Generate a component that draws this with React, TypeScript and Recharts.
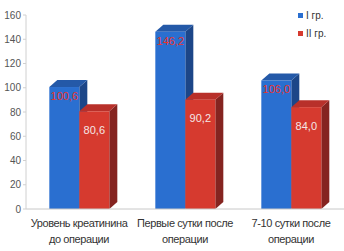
import { BarChart, Bar, XAxis, YAxis, LabelList } from 'recharts';

const categories = ['Уровень креатинина\nдо операции', 'Первые сутки после\nоперации', '7-10 сутки после\nоперации'];
const group1 = [100.6, 146.2, 106.0];
const group2 = [80.6, 90.2, 84.0];
const yTicks = [0, 20, 40, 60, 80, 100, 120, 140, 160];
const seriesNames = ['I гр.', 'II гр.'];

const data = categories.map((name, i) => ({ name, g1: group1[i], g2: group2[i] }));

const DX = 8;
const DY = 7;

const palettes = {
    blue: { front: '#2a6fd0', top: '#2459a8', side: '#1c4688' },
    red: { front: '#d63a2f', top: '#b8302a', side: '#852420' },
};

const fmt = (v: number) => v.toFixed(1).replace('.', ',');

const Bar3D = (props: any) => {
    const { x, y, width, height, colors } = props;
    if (width == null || height == null) return null;
    const r = x + width;
    const b = y + height;
    return (
        <g>
            <polygon points={`${r},${y} ${r + DX},${y - DY} ${r + DX},${b - DY} ${r},${b}`} fill={colors.side} />
            <polygon points={`${x},${y} ${x + DX},${y - DY} ${r + DX},${y - DY} ${r},${y}`} fill={colors.top} />
            <rect x={x} y={y} width={width} height={height} fill={colors.front} />
        </g>
    );
};

const CategoryTick = (props: any) => {
    const { x, y, payload } = props;
    const lines = String(payload.value).split('\n');
    return (
        <text x={x} y={y} textAnchor="middle" fill="#333" fontSize={11} letterSpacing={-0.4} fontFamily="Liberation Sans">
            {lines.map((line, i) => (
                <tspan key={i} x={x} dy={i === 0 ? 10 : 16}>{line}</tspan>
            ))}
        </text>
    );
};

const LegendBox = () => (
    <div style={{ position: 'absolute', left: 298, top: 6, fontFamily: 'Liberation Sans', fontSize: 10, color: '#333' }}>
        {seriesNames.map((n, i) => (
            <div key={n} style={{ display: 'flex', alignItems: 'center', height: 18 }}>
                <span style={{ width: 5, height: 5, background: i === 0 ? palettes.blue.front : palettes.red.front, marginRight: 3 }} />
                {n}
            </div>
        ))}
    </div>
);

export default function App() {
    return (
        <div style={{ position: 'absolute', left: 0, top: 0, width: 344, height: 251, background: '#fff' }}>
            <BarChart
                width={344}
                height={251}
                data={data}
                margin={{ top: 15, right: 0, bottom: 0, left: 0 }}
                barCategoryGap="22%"
                barGap={0}
            >
                <XAxis
                    dataKey="name"
                    height={42}
                    tick={<CategoryTick />}
                    tickLine={false}
                    axisLine={{ stroke: '#c8c8c8' }}
                    interval={0}
                />
                <YAxis
                    width={26}
                    domain={[0, 160]}
                    ticks={yTicks}
                    tick={{ fontSize: 10, fill: '#555', fontFamily: 'Liberation Sans' }}
                    tickSize={3}
                    tickLine={{ stroke: '#d0d0d0' }}
                    axisLine={{ stroke: '#d0d0d0' }}
                />
                <Bar dataKey="g1" name={seriesNames[0]} isAnimationActive={false}
                    shape={(p: any) => <Bar3D {...p} colors={palettes.blue} />}>
                    <LabelList dataKey="g1" position="insideTop" offset={5} formatter={(v: any) => fmt(Number(v))}
                        fill="#e8352e" fontSize={11} fontFamily="Liberation Sans" />
                </Bar>
                <Bar dataKey="g2" name={seriesNames[1]} isAnimationActive={false}
                    shape={(p: any) => <Bar3D {...p} colors={palettes.red} />}>
                    <LabelList dataKey="g2" position="insideTop" offset={15} formatter={(v: any) => fmt(Number(v))}
                        fill="#f4e6e6" fontSize={11} fontFamily="Liberation Sans" />
                </Bar>
            </BarChart>
            <LegendBox />
        </div>
    );
}
